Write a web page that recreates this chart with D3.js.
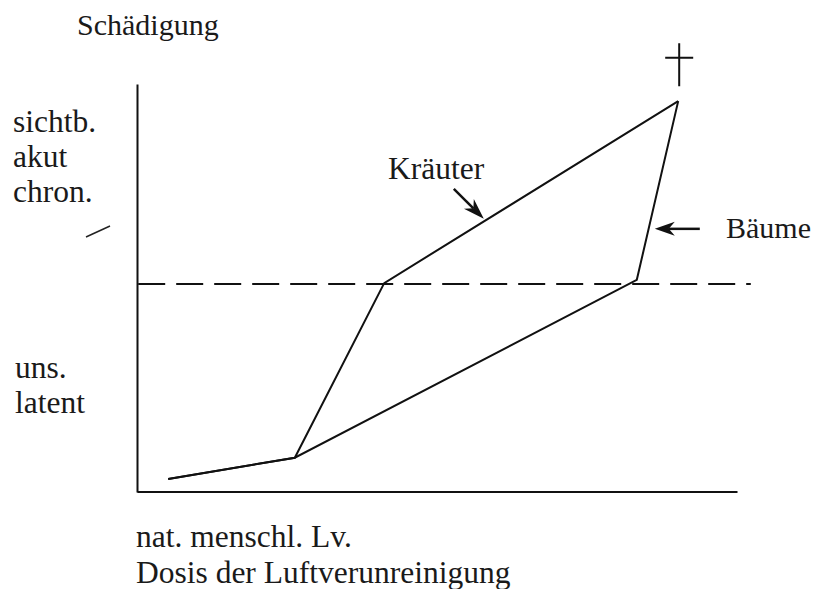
<!DOCTYPE html>
<html>
<head>
<meta charset="utf-8">
<script src="https://cdn.jsdelivr.net/npm/d3@7"></script>
<style>
	body { margin: 0; background: #fff; }
	text { font-family: "Liberation Serif", "Times New Roman", serif; fill: #1a1a1a; }
</style>
</head>
<body>
<div id="chartDiv"></div>
<script>
;(function() {

	var width = 813;
	var height = 589;
	var margin = { top: 84, right: 76, bottom: 97, left: 137 };

	// data (arbitrary units, 0..100 on both axes)
	var kraeuterX = [5.2, 26.3, 41.2, 90.2];
	var kraeuterY = [3.2, 8.4, 51.2, 95.8];
	var baeumeX = [5.2, 26.3, 83.3, 90.2];
	var baeumeY = [3.2, 8.4, 52.0, 95.8];
	var thresholdY = 51.0;
	var thresholdXRange = [0.2, 102.3];

	var titleLabel = "Schädigung";
	var upperLabels = ["sichtb.", "akut", "chron."];
	var lowerLabels = ["uns.", "latent"];
	var xLabels = ["nat. menschl. Lv.", "Dosis der Luftverunreinigung"];
	var seriesNames = ["Kräuter", "Bäume"];

	// arrows: [tailX, tailY, tipX, tipY] in data units
	var kraeuterArrow = [52.8, 74.3, 57.8, 67.0];
	var baeumeArrow = [93.8, 64.5, 86.3, 64.5];
	var strayMark = [-8.5, 62.5, -4.5, 65.2];

	var chart;
	var chartWidth;
	var chartHeight;

	init();

	function init() {
		chartWidth = width - margin.left - margin.right;
		chartHeight = height - margin.top - margin.bottom;

		initializeChart();
		createAxes();
		drawThreshold();
		drawLines();
		drawAnnotations();
		drawLabels();
	}

	function initializeChart() {
		chart = d3.select("#chartDiv").append("svg")
			.attr("width", width)
			.attr("height", height);

		chart.plotArea = chart.append("g")
			.attr("transform", "translate(" + margin.left + "," + margin.top + ")");
	}

	function createAxes() {
		chart.xScale = d3.scaleLinear()
			.domain([0, 100])
			.range([0, chartWidth]);

		chart.yScale = d3.scaleLinear()
			.domain([0, 100])
			.range([chartHeight, 0]);

		// bare axes, no ticks
		chart.xAxis = d3.axisBottom(chart.xScale).tickValues([]).tickSizeOuter(0);
		chart.yAxis = d3.axisLeft(chart.yScale).tickValues([]).tickSizeOuter(0);

		chart.plotArea.append("g")
			.attr("class", "x axis")
			.attr("transform", "translate(0," + (chartHeight - 0.5) + ")")
			.call(chart.xAxis);

		chart.plotArea.append("g")
			.attr("class", "y axis")
			.call(chart.yAxis);

		chart.plotArea.selectAll(".axis path")
			.attr("stroke", "#111")
			.attr("stroke-width", 2);
	}

	function drawThreshold() {
		chart.plotArea.append("line")
			.attr("x1", chart.xScale(thresholdXRange[0]))
			.attr("x2", chart.xScale(thresholdXRange[1]))
			.attr("y1", chart.yScale(thresholdY))
			.attr("y2", chart.yScale(thresholdY))
			.attr("stroke", "#111")
			.attr("stroke-width", 2)
			.attr("stroke-dasharray", "27,11");
	}

	function drawLines() {
		var line = d3.line()
			.x(function(d) { return chart.xScale(d[0]); })
			.y(function(d) { return chart.yScale(d[1]); });

		var series = [d3.zip(kraeuterX, kraeuterY), d3.zip(baeumeX, baeumeY)];

		chart.plotArea.selectAll(".curve")
			.data(series)
			.enter().append("path")
				.attr("class", "curve")
				.attr("d", line)
				.attr("fill", "none")
				.attr("stroke", "#111")
				.attr("stroke-width", 2)
				.attr("stroke-linejoin", "miter");

		// cross above the end point
		var last = kraeuterX.length - 1;
		var px = chart.xScale(kraeuterX[last]) + 1;
		var py = chart.yScale(kraeuterY[last]);
		chart.plotArea.append("path")
			.attr("d", "M" + px + "," + (py - 15) + "V" + (py - 58) +
				"M" + (px - 14) + "," + (py - 43.5) + "H" + (px + 14))
			.attr("stroke", "#111")
			.attr("stroke-width", 2)
			.attr("fill", "none");
	}

	function drawArrow(a, headLen, headHalf) {
		var x1 = chart.xScale(a[0]), y1 = chart.yScale(a[1]);
		var x2 = chart.xScale(a[2]), y2 = chart.yScale(a[3]);
		var ang = Math.atan2(y2 - y1, x2 - x1);
		var bx = x2 - headLen * Math.cos(ang), by = y2 - headLen * Math.sin(ang);
		var nx = -Math.sin(ang) * headHalf, ny = Math.cos(ang) * headHalf;

		chart.plotArea.append("line")
			.attr("x1", x1).attr("y1", y1)
			.attr("x2", bx + (x2 - bx) * 0.3).attr("y2", by + (y2 - by) * 0.3)
			.attr("stroke", "#111")
			.attr("stroke-width", 2.5);

		chart.plotArea.append("path")
			.attr("d", "M" + x2 + "," + y2 +
				"L" + (bx + nx) + "," + (by + ny) +
				"L" + (bx + (x2 - bx) * 0.3) + "," + (by + (y2 - by) * 0.3) +
				"L" + (bx - nx) + "," + (by - ny) + "Z")
			.attr("fill", "#111");
	}

	function drawAnnotations() {
		drawArrow(kraeuterArrow, 21, 7);
		drawArrow(baeumeArrow, 20, 7);

		chart.plotArea.append("line")
			.attr("x1", chart.xScale(strayMark[0]))
			.attr("y1", chart.yScale(strayMark[1]))
			.attr("x2", chart.xScale(strayMark[2]))
			.attr("y2", chart.yScale(strayMark[3]))
			.attr("stroke", "#222")
			.attr("stroke-width", 1.5);
	}

	function drawLabels() {
		var fs = "31.5px";

		chart.append("text")
			.attr("x", 77).attr("y", 35)
			.style("font-size", "30px")
			.text(titleLabel);

		chart.selectAll(".upper")
			.data(upperLabels)
			.enter().append("text")
				.attr("class", "upper")
				.attr("x", 13)
				.attr("y", function(d, i) { return 132 + i * 35; })
				.style("font-size", fs)
				.text(function(d) { return d; });

		chart.selectAll(".lower")
			.data(lowerLabels)
			.enter().append("text")
				.attr("class", "lower")
				.attr("x", 15)
				.attr("y", function(d, i) { return 378 + i * 35; })
				.style("font-size", fs)
				.text(function(d) { return d; });

		chart.selectAll(".xlab")
			.data(xLabels)
			.enter().append("text")
				.attr("class", "xlab")
				.attr("x", 136)
				.attr("y", function(d, i) { return 547 + i * 36; })
				.style("font-size", fs)
				.text(function(d) { return d; });

		chart.append("text")
			.attr("x", 388).attr("y", 179)
			.style("font-size", fs)
			.text(seriesNames[0]);

		chart.append("text")
			.attr("x", 726).attr("y", 238)
			.style("font-size", "30px")
			.text(seriesNames[1]);
	}

})();
</script>
</body>
</html>
